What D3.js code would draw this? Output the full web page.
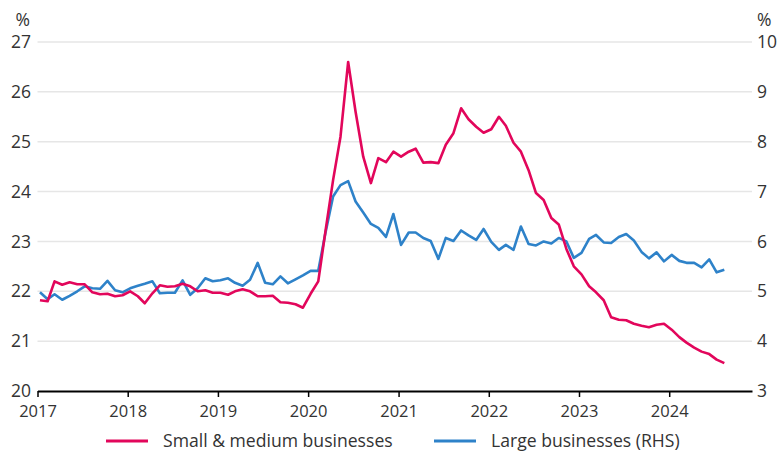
<!DOCTYPE html>
<html>
<head>
<meta charset="utf-8">
<script src="https://cdn.jsdelivr.net/npm/d3@7"></script>
<style>
body{margin:0;background:#fff;}
text{font-family:"Open Sans",sans-serif;fill:#333;}
</style>
</head>
<body>
<div id="chart-area"></div>
<script>
// monthly, Jan 2017 - Aug 2024
const firstMonth=[2017,0];
const smeRate=[21.82,21.8,22.2,22.13,22.18,22.14,22.14,21.98,21.94,21.95,21.9,21.92,
    22.0,21.9,21.76,21.96,22.12,22.09,22.1,22.15,22.1,22.0,22.02,21.97,
    21.97,21.93,22.0,22.04,22.0,21.9,21.9,21.91,21.78,21.77,21.74,21.67,
    21.95,22.2,23.2,24.23,25.1,26.6,25.6,24.7,24.17,24.67,24.59,24.8,
    24.7,24.8,24.86,24.58,24.59,24.57,24.94,25.17,25.67,25.45,25.3,25.18,
    25.25,25.5,25.32,24.98,24.8,24.43,23.97,23.83,23.47,23.34,22.85,22.5,
    22.34,22.1,21.98,21.82,21.48,21.43,21.42,21.35,21.31,21.28,21.33,21.35,
    21.23,21.08,20.97,20.87,20.79,20.74,20.63,20.56];
const largeRate=[4.98,4.84,4.94,4.83,4.91,5.0,5.1,5.06,5.05,5.21,5.02,4.98,
    5.06,5.11,5.15,5.2,4.96,4.97,4.97,5.22,4.93,5.06,5.26,5.2,
    5.22,5.26,5.17,5.11,5.23,5.57,5.17,5.14,5.3,5.16,5.24,5.32,
    5.41,5.41,6.17,6.9,7.13,7.21,6.8,6.58,6.35,6.27,6.09,6.55,
    5.93,6.18,6.18,6.07,6.01,5.65,6.07,6.01,6.22,6.12,6.03,6.25,
    5.99,5.83,5.93,5.83,6.3,5.95,5.92,6.0,5.96,6.07,6.0,5.67,
    5.77,6.05,6.13,5.98,5.97,6.09,6.15,6.02,5.79,5.66,5.78,5.6,
    5.73,5.61,5.57,5.57,5.48,5.64,5.38,5.43];
const yearTicks=[2017,2018,2019,2020,2021,2022,2023,2024];
const leftTicks=[20,21,22,23,24,25,26,27];
const rightTicks=[3,4,5,6,7,8,9,10];
const seriesNames=['Small & medium businesses','Large businesses (RHS)'];

const W=783,H=467;
const pinkCol='#e2065b', blueCol='#2e82c9';

const svg=d3.select('#chart-area').append('svg')
    .attr('width',W).attr('height',H);

const months=smeRate.map((d,i)=>new Date(firstMonth[0],firstMonth[1]+i,11));

const x=d3.scaleTime()
    .domain([new Date(2017,0,1),new Date(2024,11,1)])
    .range([37.5,752]);
const yL=d3.scaleLinear().domain([20,27]).range([391,42]);
const yR=d3.scaleLinear().domain([3,10]).range([391,42]);

// gridlines
svg.append('g').selectAll('line')
    .data(leftTicks.filter(d=>d>20))
    .enter().append('line')
    .attr('x1',x.range()[0]).attr('x2',x.range()[1])
    .attr('y1',d=>yL(d)).attr('y2',d=>yL(d))
    .attr('stroke','#e6e6e6').attr('stroke-width',1.5);

// left axis labels
svg.append('g').selectAll('text')
    .data(leftTicks)
    .enter().append('text')
    .attr('x',31).attr('y',d=>yL(d))
    .attr('dy','0.35em')
    .attr('text-anchor','end')
    .attr('font-size','17.5px')
    .text(d=>d);

// right axis labels
svg.append('g').selectAll('text')
    .data(rightTicks)
    .enter().append('text')
    .attr('x',757).attr('y',d=>yR(d))
    .attr('dy','0.35em')
    .attr('font-size','17.5px')
    .text(d=>d);

svg.append('text').attr('x',30).attr('y',20).attr('dy','0.35em')
    .attr('text-anchor','end').attr('font-size','17.5px').text('%');
svg.append('text').attr('x',757).attr('y',20).attr('dy','0.35em')
    .attr('font-size','17.5px').text('%');

// x axis
const xAxis=d3.axisBottom(x)
    .tickValues(yearTicks.map(yr=>new Date(yr,0,1)))
    .tickFormat(d3.timeFormat('%Y'))
    .tickSize(6)
    .tickSizeOuter(0);
const xAxisGroup=svg.append('g')
    .attr('transform','translate(0,'+yL(20)+')')
    .call(xAxis);
xAxisGroup.select('.domain').attr('stroke','#000').attr('stroke-width',2);
xAxisGroup.selectAll('.tick line').attr('stroke','#000').attr('stroke-width',1.5);
xAxisGroup.selectAll('.tick text')
    .attr('font-family','"Open Sans",sans-serif')
    .attr('font-size','16.5px')
    .attr('fill','#333')
    .attr('dy','1.05em');

// lines
const lineL=d3.line().x((d,i)=>x(months[i])).y(d=>yL(d));
const lineR=d3.line().x((d,i)=>x(months[i])).y(d=>yR(d));

svg.append('path')
    .datum(largeRate)
    .attr('d',lineR)
    .attr('fill','none')
    .attr('stroke',blueCol)
    .attr('stroke-width',2.6)
    .attr('stroke-linejoin','round');

svg.append('path')
    .datum(smeRate)
    .attr('d',lineL)
    .attr('fill','none')
    .attr('stroke',pinkCol)
    .attr('stroke-width',2.6)
    .attr('stroke-linejoin','round');

// legend
const legend=svg.append('g').attr('transform','translate(0,441)');
const legendItems=[
    {name:seriesNames[0],col:pinkCol,x0:106},
    {name:seriesNames[1],col:blueCol,x0:434}
];
legendItems.forEach(it=>{
    legend.append('line')
        .attr('x1',it.x0).attr('x2',it.x0+42)
        .attr('y1',0).attr('y2',0)
        .attr('stroke',it.col).attr('stroke-width',3);
    legend.append('text')
        .attr('x',it.x0+57).attr('y',0).attr('dy','0.35em')
        .attr('font-size','17.6px')
        .text(it.name);
});
</script>
</body>
</html>
